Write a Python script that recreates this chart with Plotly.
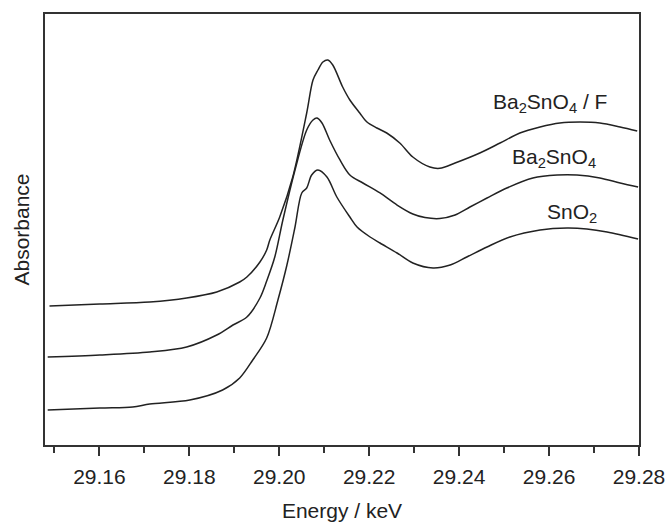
import plotly.graph_objects as go

# Energy (keV) and absorbance (arb. units, stacked)
e_baf = [29.1489, 29.1601, 29.1712, 29.1794, 29.1861, 29.1912, 29.1928, 29.1957, 29.1972, 29.1979,
         29.2001, 29.2030, 29.2061, 29.2075, 29.2086, 29.2097, 29.2108, 29.2119, 29.2141, 29.2157,
         29.2179, 29.2195, 29.2217, 29.2239, 29.2268, 29.2297, 29.2335, 29.2357, 29.2391, 29.2446,
         29.2491, 29.2535, 29.2580, 29.2624, 29.2669, 29.2713, 29.2758, 29.2796]
a_baf = [3.225, 3.271, 3.318, 3.411, 3.550, 3.782, 3.898, 4.246, 4.524, 4.756,
         5.290, 6.218, 7.703, 8.469, 8.701, 8.886, 8.933, 8.817, 8.306, 8.005,
         7.703, 7.494, 7.355, 7.239, 7.007, 6.682, 6.450, 6.420, 6.543, 6.775,
         7.007, 7.239, 7.378, 7.471, 7.494, 7.471, 7.378, 7.285]

e_ba = [29.1485, 29.1601, 29.1712, 29.1794, 29.1861, 29.1897, 29.1928, 29.1957, 29.1972, 29.1990,
        29.2008, 29.2035, 29.2061, 29.2075, 29.2084, 29.2095, 29.2112, 29.2135, 29.2157, 29.2186,
        29.2224, 29.2262, 29.2297, 29.2324, 29.2357, 29.2391, 29.2424, 29.2462, 29.2506, 29.2564,
        29.2618, 29.2662, 29.2713, 29.2758, 29.2798]
a_ba = [2.042, 2.088, 2.158, 2.274, 2.552, 2.784, 2.970, 3.411, 3.805, 4.362,
        5.220, 6.381, 7.309, 7.541, 7.587, 7.471, 7.077, 6.613, 6.265, 6.079,
        5.847, 5.568, 5.360, 5.278, 5.255, 5.336, 5.522, 5.731, 5.963, 6.195,
        6.265, 6.265, 6.195, 6.079, 5.986]

e_sn = [29.1485, 29.1601, 29.1674, 29.1712, 29.1801, 29.1874, 29.1912, 29.1941, 29.1972, 29.1997,
        29.2017, 29.2035, 29.2050, 29.2061, 29.2072, 29.2086, 29.2106, 29.2128, 29.2157, 29.2173,
        29.2202, 29.2224, 29.2262, 29.2297, 29.2342, 29.2380, 29.2417, 29.2462, 29.2513, 29.2580,
        29.2640, 29.2684, 29.2729, 29.2798]
a_sn = [0.812, 0.858, 0.882, 0.951, 1.044, 1.276, 1.555, 1.972, 2.483, 3.364,
        4.176, 5.058, 5.847, 5.963, 6.265, 6.381, 6.218, 5.754, 5.290, 5.058,
        4.826, 4.687, 4.455, 4.223, 4.107, 4.176, 4.362, 4.594, 4.826, 4.988,
        5.035, 5.012, 4.942, 4.780]

labels = ["Ba<sub>2</sub>SnO<sub>4</sub> / F", "Ba<sub>2</sub>SnO<sub>4</sub>", "SnO<sub>2</sub>"]
label_x = [29.2602, 29.2611, 29.2651]
label_y = [7.935, 6.659, 5.383]

x_range = [29.1479, 29.28]
x_ticks = [29.16, 29.18, 29.20, 29.22, 29.24, 29.26, 29.28]
x_ticktext = ["29.16", "29.18", "29.20", "29.22", "29.24", "29.26", "29.28"]

FONT = "Liberation Sans, Arial, sans-serif"
INK = "#222222"
FS = 21

fig = go.Figure()
for ex, ay in [(e_baf, a_baf), (e_ba, a_ba), (e_sn, a_sn)]:
    fig.add_trace(go.Scatter(x=ex, y=ay, mode="lines",
                             line=dict(color=INK, width=1.5, shape="spline", smoothing=0.9),
                             showlegend=False, hoverinfo="skip"))

for t, lx, ly in zip(labels, label_x, label_y):
    fig.add_annotation(x=lx, y=ly, text=t, showarrow=False,
                       font=dict(family=FONT, size=FS, color=INK))

fig.update_layout(
    width=666, height=522,
    margin=dict(l=45, r=27, t=14, b=77),
    paper_bgcolor="white", plot_bgcolor="white",
    font=dict(family=FONT, size=FS, color=INK),
    xaxis=dict(range=x_range, tickvals=x_ticks, ticktext=x_ticktext, automargin=False,
               ticks="outside", ticklen=9, tickwidth=1.5, tickcolor="#333",
               ticklabelstandoff=3,
               minor=dict(dtick=0.01, tick0=29.15, ticks="outside", ticklen=6,
                          tickwidth=1.5, tickcolor="#333"),
               showline=True, linecolor="#333", linewidth=1.5, mirror=True,
               showgrid=False, zeroline=False,
               title=dict(text="Energy / keV", font=dict(size=FS), standoff=18),
               tickfont=dict(size=FS)),
    yaxis=dict(range=[0, 10], showticklabels=False, ticks="", automargin=False,
               showline=True, linecolor="#333", linewidth=1.5, mirror=True,
               showgrid=False, zeroline=False,
               title=dict(text="Absorbance", font=dict(size=FS), standoff=8)),
    xaxis2=dict(range=x_range, overlaying="x", side="top", showticklabels=False,
                automargin=False,
                dtick=0.01, tick0=29.15, ticks="inside", ticklen=3, tickwidth=1,
                tickcolor="#888", showgrid=False, zeroline=False, showline=False),
    yaxis2=dict(range=[0, 10], overlaying="y", side="right", showticklabels=False,
                automargin=False,
                dtick=1, ticks="inside", ticklen=3, tickwidth=1,
                tickcolor="#888", showgrid=False, zeroline=False, showline=False),
)

fig.write_html("out.html")
